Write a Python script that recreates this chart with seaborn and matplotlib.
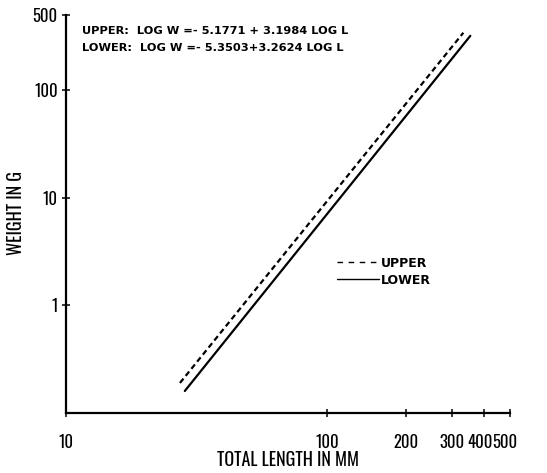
import pandas as pd
import matplotlib
matplotlib.use("Agg")
import matplotlib.pyplot as plt
import matplotlib.transforms as mtransforms
import seaborn as sns
from matplotlib.lines import Line2D

# =====================================================
# DATA
# =====================================================

upper_len = [27.3, 332]
upper_wt = [0.19, 343]

lower_len = [28.5, 353]
lower_wt = [0.16, 321]

x_ticks = [10, 100, 200, 300, 400, 500]
y_ticks = [1, 10, 100, 500]

eq_upper = "UPPER:  LOG W =- 5.1771 + 3.1984 LOG L"
eq_lower = "LOWER:  LOG W =- 5.3503+3.2624 LOG L"

df = pd.DataFrame({
    "length": upper_len + lower_len,
    "weight": upper_wt + lower_wt,
    "group": ["UPPER"] * len(upper_len) + ["LOWER"] * len(lower_len),
})

# =====================================================
# STYLE
# =====================================================

sns.set_style("ticks")
plt.rcParams["font.family"] = ["Oswald", "DejaVu Sans"]
plt.rcParams["text.color"] = "black"
plt.rcParams["axes.labelcolor"] = "black"
plt.rcParams["xtick.color"] = "black"
plt.rcParams["ytick.color"] = "black"

fig = plt.figure(figsize=(5.47, 4.73), dpi=100)
ax = fig.add_axes([0.1207, 0.127, 0.8113, 0.841])

sns.lineplot(
    data=df,
    x="length",
    y="weight",
    style="group",
    style_order=["UPPER", "LOWER"],
    dashes={"UPPER": (2.5, 1.6), "LOWER": ""},
    color="black",
    linewidth=1.6,
    legend=False,
    ax=ax,
)

ax.set_xscale("log")
ax.set_yscale("log")
ax.set_xlim(10, 500)
ax.set_ylim(0.1, 500)

ax.set_xticks(x_ticks)
ax.set_xticklabels([str(t) for t in x_ticks])
ax.set_yticks(y_ticks)
ax.set_yticklabels([str(t) for t in y_ticks])
ax.minorticks_off()

ax.tick_params(axis="both", direction="inout", length=6, width=1.1,
               labelsize=12)
ax.tick_params(axis="x", pad=12)
ax.tick_params(axis="y", pad=3)

# the last x labels sit a little left of their ticks
for lab, dx in zip(ax.get_xticklabels()[-2:], [-4, -5]):
    offset = mtransforms.ScaledTranslation(dx / 100, 0, fig.dpi_scale_trans)
    lab.set_transform(lab.get_transform() + offset)

sns.despine(ax=ax)
for side in ["left", "bottom"]:
    ax.spines[side].set_linewidth(1.6)
    ax.spines[side].set_color("black")

ax.set_xlabel("TOTAL LENGTH IN MM", fontsize=13, labelpad=0)
ax.set_ylabel("WEIGHT IN G", fontsize=13, fontweight="bold")
ax.yaxis.set_label_coords(-0.092, 0.503)

# equations
eq_font = {"family": "DejaVu Sans", "size": 8.2, "weight": "bold"}
ax.text(0.036, 0.960, eq_upper, transform=ax.transAxes,
        fontdict=eq_font, va="center", ha="left")
ax.text(0.036, 0.918, eq_lower, transform=ax.transAxes,
        fontdict=eq_font, va="center", ha="left")

# legend
handles = [
    Line2D([0], [0], color="black", linewidth=1.0, dashes=(4, 4)),
    Line2D([0], [0], color="black", linewidth=1.0),
]
ax.legend(
    handles,
    ["UPPER", "LOWER"],
    loc="center left",
    bbox_to_anchor=(0.585, 0.355),
    frameon=False,
    handlelength=3.4,
    handletextpad=0.1,
    labelspacing=0.3,
    prop={"family": "DejaVu Sans", "size": 9, "weight": "bold"},
)

fig.savefig("out.png", dpi=100)
